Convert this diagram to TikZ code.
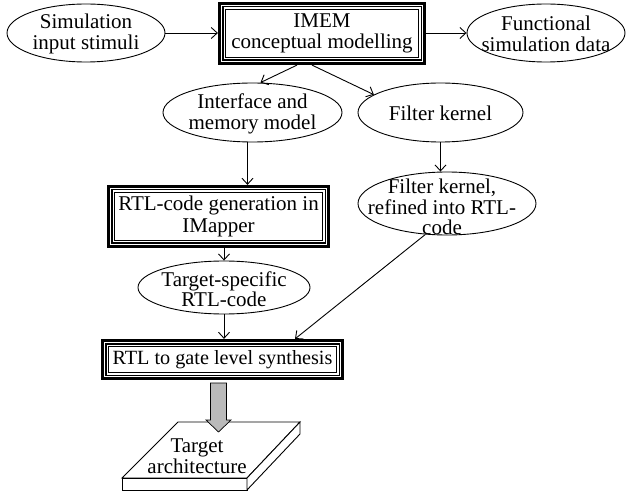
\documentclass[tikz,border=0pt]{standalone}
\usepackage{fontspec}
\setmainfont{Liberation Serif}
\usetikzlibrary{shapes.geometric,arrows.meta,calc}
\begin{document}
\begin{tikzpicture}[x=1pt,y=-1pt,
  ell/.style={ellipse, draw, line width=0.9pt, inner sep=0pt},
  txt/.style={align=center, inner sep=0pt, font=\fontsize{21}{20.5}\selectfont},
  tribox/.style={draw, line width=3.2pt, inner sep=0pt, align=center, font=\fontsize{21}{21.5}\selectfont},
  midline/.style={line width=1.4pt},
  thinline/.style={line width=1pt},
  arr/.style={-{Straight Barb[length=6pt,width=11pt]}, line width=0.9pt},
  grayarrow/.style={fill=black!27, draw, line width=0.7pt, line join=miter},
  slab/.style={fill=white, draw, line width=0.9pt, line join=miter}]
\useasboundingbox (0,0) rectangle (629,494);

% ellipses
\node[ell, minimum width=158pt, minimum height=58pt] (sim) at (86,33) {};
\node[txt] (simt) at (86,34) {Simulation\\input stimuli};
\node[ell, minimum width=158pt, minimum height=58pt] (func) at (546,33) {};
\node[txt] (funct) at (546,34) {Functional\\simulation data};
\node[ell, minimum width=179pt, minimum height=59pt] (iface) at (252.5,112.5) {};
\node[txt] (ifacet) at (252.5,114) {Interface and\\memory model};
\node[ell, minimum width=165pt, minimum height=59pt] (fk) at (440.5,112.5) {};
\node[txt] (fkt) at (440.5,113) {Filter kernel};
\node[ell, minimum width=178pt, minimum height=63pt] (fkr) at (447,203.5) {};
\node[txt] (fkrt) at (442,207) {Filter kernel,\\refined into RTL-\\code};
\node[ell, minimum width=172pt, minimum height=53pt] (tspec) at (224,287.5) {};
\node[txt] (tspect) at (224,289) {Target-specific\\RTL-code};

% triple boxes
\node[tribox, minimum width=205pt, minimum height=60pt] (imem) at (322,33.5) {IMEM\\conceptual modelling};
\node[tribox, minimum width=220pt, minimum height=60pt] (rtlgen) at (218.5,216.5) {RTL-code generation in\\IMapper};
\node[tribox, minimum width=240pt, minimum height=38pt, font=\fontsize{20.2}{21}\selectfont] (gate) at (222.5,359.5) {RTL to gate level synthesis};
\foreach \b in {imem,rtlgen,gate}{
  \draw[midline] ([xshift=4.9pt,yshift=-4.9pt]\b.north west) rectangle ([xshift=-4.9pt,yshift=4.9pt]\b.south east);
  \draw[thinline] ([xshift=7.3pt,yshift=-7.3pt]\b.north west) rectangle ([xshift=-7.3pt,yshift=7.3pt]\b.south east);
}

% connectors
\draw[arr] (sim.east) -- (sim.east -| imem.west);
\draw[arr] (imem.east |- func.west) -- (func.west);
\draw[arr] ([xshift=-25pt]imem.south) -- ([xshift=8pt]iface.north);
\draw[arr] ([xshift=-10pt]imem.south) -- (fk.165);
\draw[arr] ([xshift=-5pt]iface.south) -- ([xshift=-5pt]iface.south |- rtlgen.north);
\draw[arr] (fk.south) -- (fk.south |- fkr.north);
\draw[arr] (rtlgen.south -| tspec.north) -- (tspec.north);
\draw[arr] (tspec.south) -- (tspec.south |- gate.north);
\draw[arr] (fkr.235) -- ([xshift=72.5pt]gate.north);

% target architecture slab
\draw[slab] (178,422) -- (300,422) -- (247,478) -- (122,478) -- cycle;
\draw[slab] (122,478) rectangle (247,490);
\draw[slab] (247,478) -- (300,422) -- (300,434) -- (247,490) -- cycle;
\node[txt] (tat) at (197,456) {Target\\architecture};

% gray block arrow
\draw[grayarrow] (210.5,383) -- (226.5,383) -- (226.5,420) -- (231,420) -- (218.5,432) -- (206,420) -- (210.5,420) -- cycle;
\end{tikzpicture}
\end{document}
